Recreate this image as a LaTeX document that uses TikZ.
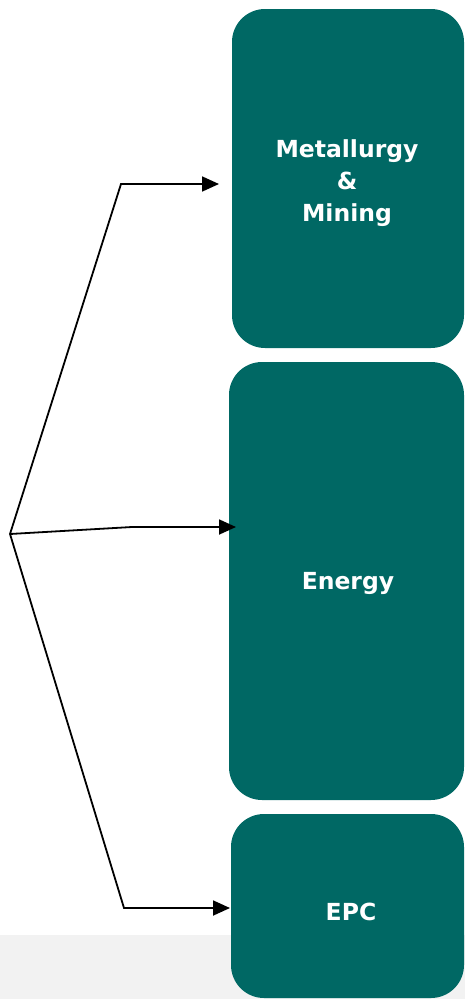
\documentclass[tikz,border=0pt]{standalone}
\usepackage{fontspec}
\setmainfont{DejaVu Sans}
\usetikzlibrary{arrows.meta}
\definecolor{sectorteal}{RGB}{0,104,100}
\definecolor{band}{RGB}{242,242,242}
\tikzset{
  sector/.style={fill=sectorteal, rounded corners=33pt, draw=none},
  boxtext/.style={text=white, font=\fontsize{23.5}{32}\selectfont\bfseries, align=center, inner sep=0pt},
  link/.style={draw=black, line width=1.8pt, -{Triangle[length=17pt,width=15pt]}}
}
\begin{document}
\begin{tikzpicture}[x=1pt,y=-1pt]
  \useasboundingbox (0,0) rectangle (465,999);
  % light band along the bottom
  \fill[band] (0,935) rectangle (465,999);
  % sector boxes
  \path[sector] (232,9) rectangle (464,348);
  \path[sector] (229,362) rectangle (464,800);
  \path[sector] (231,814) rectangle (464,998);
  \node[boxtext] (metal) at (347,183) {Metallurgy\\\&\\Mining};
  \node[boxtext] (energy) at (348,583) {Energy};
  \node[boxtext] (epc) at (351,912) {EPC};
  % branching connectors
  \coordinate (root) at (10,534);
  \coordinate (b1) at (121,184);
  \coordinate (e1) at (219,184);
  \coordinate (b2) at (132,527);
  \coordinate (e2) at (236,527);
  \coordinate (b3) at (124,908);
  \coordinate (e3) at (230,908);
  \draw[link] (root) -- (b1) -- (e1);
  \draw[link] (root) -- (b2) -- (e2);
  \draw[link] (root) -- (b3) -- (e3);
\end{tikzpicture}
\end{document}
